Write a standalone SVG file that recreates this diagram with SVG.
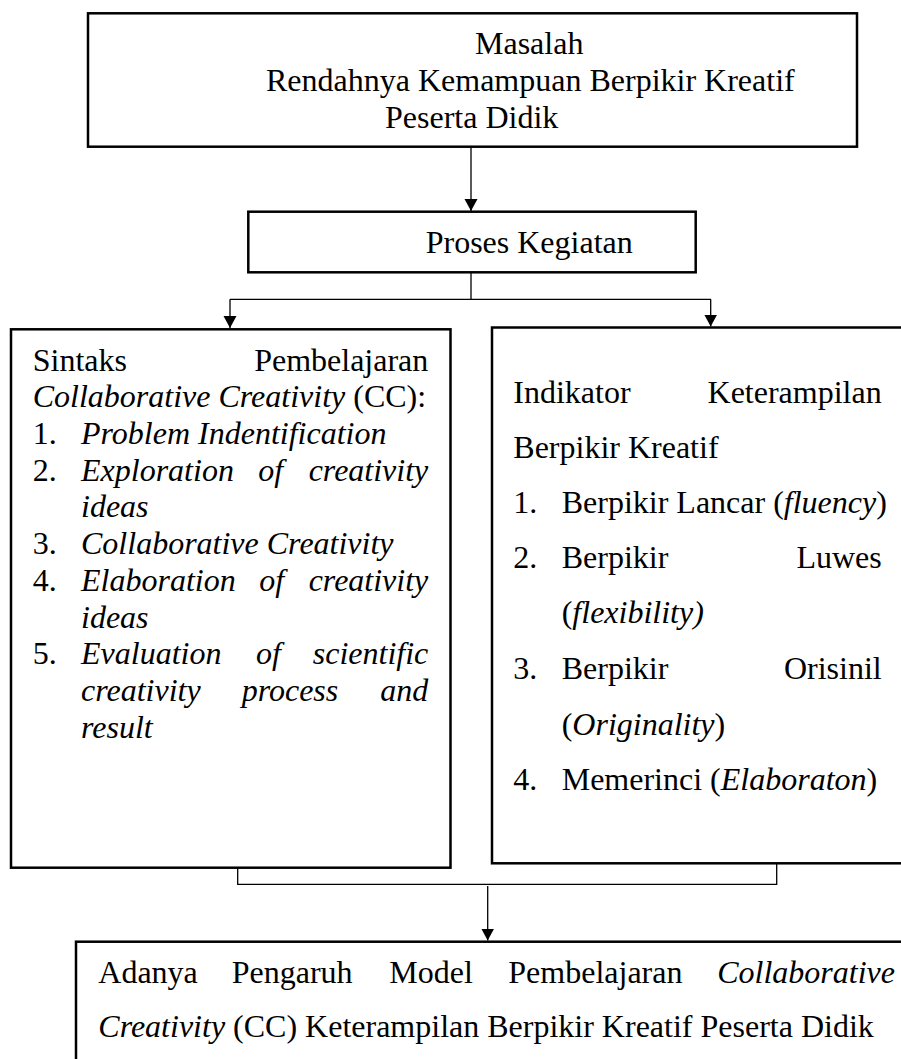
<svg xmlns="http://www.w3.org/2000/svg" width="901" height="1059" viewBox="0 0 901 1059">
<defs>
<style>
.box{fill:#fff;stroke:#000;stroke-width:2.5}
.t{font-family:'Liberation Serif','Times New Roman','DejaVu Serif',serif;font-size:32px;fill:#000}
.i{font-style:italic}
.e{text-anchor:end}
.c{fill:none;stroke:#000;stroke-width:1.3}
</style>
<marker id="arr" markerUnits="userSpaceOnUse" markerWidth="15" markerHeight="14" refX="12" refY="7" orient="auto" viewBox="0 0 15 14">
<path d="M0,0.5 L12,7 L0,13.5 Z" fill="#000"/>
</marker>
</defs>

<g id="connectors">
<line class="c" x1="471" y1="147" x2="471" y2="211" marker-end="url(#arr)"/>
<line class="c" x1="471" y1="272" x2="471" y2="299.3"/>
<line class="c" x1="230" y1="299.3" x2="711" y2="299.3"/>
<line class="c" x1="230" y1="299.3" x2="230" y2="328" marker-end="url(#arr)"/>
<line class="c" x1="710.7" y1="299.3" x2="710.7" y2="326.5" marker-end="url(#arr)"/>
<polyline class="c" points="237.7,868 237.7,884.3 776.7,884.3 776.7,844"/>
<line class="c" x1="487.7" y1="886" x2="487.7" y2="940.5" marker-end="url(#arr)"/>
</g>

<g id="node-masalah" font-family="Liberation Serif, serif">
<rect class="box" x="88" y="13.3" width="769" height="133.4"/>
<text class="t" x="475" y="54">Masalah</text>
<text class="t" x="266" y="91">Rendahnya Kemampuan Berpikir Kreatif</text>
<text class="t" x="385" y="128">Peserta Didik</text>
</g>

<g id="node-proses">
<rect class="box" x="248.3" y="211.7" width="447.4" height="60.6"/>
<text class="t" x="425.7" y="253">Proses Kegiatan</text>
</g>

<g id="node-sintaks">
<rect class="box" x="11" y="329.3" width="439.5" height="538.4"/>
<text class="t" x="32.7" y="370.7">Sintaks</text>
<text class="t e" x="428.3" y="370.7">Pembelajaran</text>
<text class="t" x="32.7" y="407.3"><tspan class="i">Collaborative Creativity</tspan> (CC):</text>
<text class="t" x="32.7" y="444">1.</text>
<text class="t i" x="81" y="444">Problem Indentification</text>
<text class="t" x="32.7" y="480.7">2.</text>
<text class="t i" x="81" y="480.7">Exploration</text>
<text class="t i" x="258.3" y="480.7">of</text>
<text class="t i e" x="428.3" y="480.7">creativity</text>
<text class="t i" x="81" y="517.4">ideas</text>
<text class="t" x="32.7" y="554.1">3.</text>
<text class="t i" x="81" y="554.1">Collaborative Creativity</text>
<text class="t" x="32.7" y="590.8">4.</text>
<text class="t i" x="81" y="590.8">Elaboration</text>
<text class="t i" x="259.3" y="590.8">of</text>
<text class="t i e" x="428.3" y="590.8">creativity</text>
<text class="t i" x="81" y="627.5">ideas</text>
<text class="t" x="32.7" y="664.2">5.</text>
<text class="t i" x="81" y="664.2">Evaluation</text>
<text class="t i" x="256" y="664.2">of</text>
<text class="t i e" x="428.3" y="664.2">scientific</text>
<text class="t i" x="81" y="700.9">creativity</text>
<text class="t i" x="241.7" y="700.9">process</text>
<text class="t i e" x="428.3" y="700.9">and</text>
<text class="t i" x="81" y="737.6">result</text>
</g>

<g id="node-indikator">
<rect class="box" x="492" y="327.5" width="430" height="535.8"/>
<text class="t" x="513.3" y="403.3">Indikator</text>
<text class="t e" x="881.7" y="403.3">Keterampilan</text>
<text class="t" x="513.3" y="458.3">Berpikir Kreatif</text>
<text class="t" x="513.3" y="513.3">1.</text>
<text class="t" x="561.7" y="513.3">Berpikir Lancar (<tspan class="i">fluency</tspan>)</text>
<text class="t" x="513.3" y="568.3">2.</text>
<text class="t" x="561.7" y="568.3">Berpikir</text>
<text class="t e" x="881.7" y="568.3">Luwes</text>
<text class="t" x="561.7" y="623.3">(<tspan class="i">flexibility)</tspan></text>
<text class="t" x="513.3" y="679.3">3.</text>
<text class="t" x="561.7" y="679.3">Berpikir</text>
<text class="t e" x="881.7" y="679.3">Orisinil</text>
<text class="t" x="561.7" y="734.8">(<tspan class="i">Originality</tspan>)</text>
<text class="t" x="513.3" y="790">4.</text>
<text class="t" x="561.7" y="790">Memerinci (<tspan class="i">Elaboraton</tspan>)</text>
</g>

<g id="node-hasil">
<rect class="box" x="76" y="941.7" width="850" height="200"/>
<text class="t" x="98.3" y="983.3">Adanya</text>
<text class="t" x="231.7" y="983.3">Pengaruh</text>
<text class="t" x="389.3" y="983.3">Model</text>
<text class="t" x="508.3" y="983.3">Pembelajaran</text>
<text class="t i e" x="895" y="983.3">Collaborative</text>
<text class="t" x="98.3" y="1036.7"><tspan class="i">Creativity</tspan> (CC) Keterampilan Berpikir Kreatif Peserta Didik</text>
</g>
</svg>
